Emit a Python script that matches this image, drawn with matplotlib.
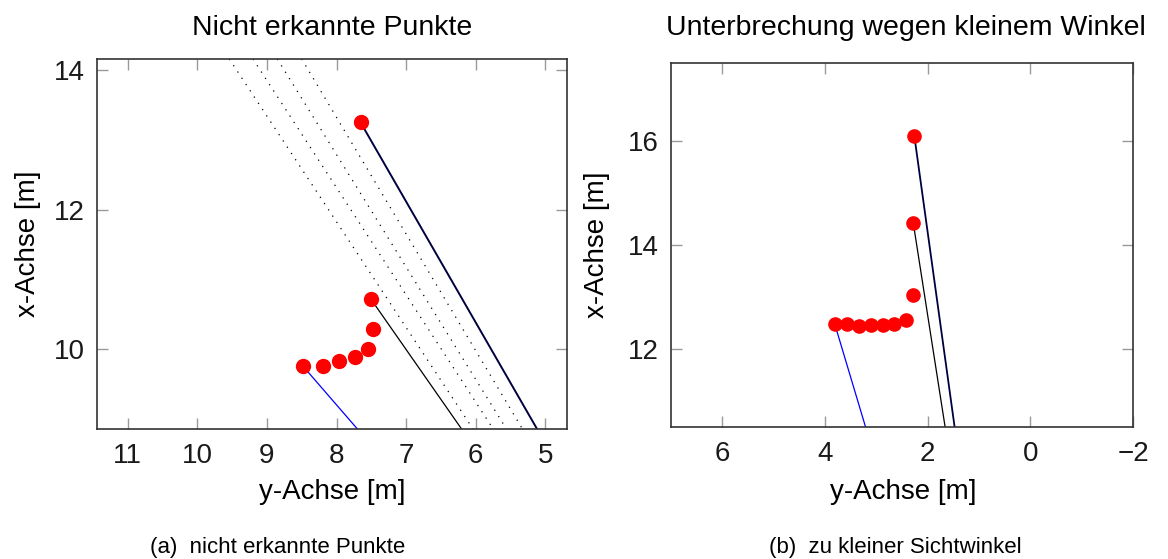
import matplotlib.pyplot as plt

# (a) nicht erkannte Punkte: detected points (y-axis value, x-axis value)
a_pts_y = [7.655, 7.51, 7.48, 7.55, 7.73, 7.97, 8.20, 8.48]
a_pts_x = [13.25, 10.72, 10.29, 10.005, 9.885, 9.83, 9.76, 9.75]

# rays (start y, start x, end y, end x)
a_ray_blue = ([8.48, 7.70], [9.75, 8.85])
a_ray_black = ([7.51, 6.204], [10.72, 8.85])
a_ray_navy = ([7.655, 5.12], [13.25, 8.85])
a_dotted_top_y = [9.54, 9.20, 8.85, 8.50]
a_dotted_bot_y = [6.04, 5.75, 5.56, 5.33]
a_dotted_x = [14.16, 8.85]

# (b) zu kleiner Sichtwinkel
b_pts_y = [2.26, 2.28, 2.29, 2.43, 2.65, 2.87, 3.10, 3.34, 3.58, 3.81]
b_pts_x = [16.10, 14.42, 13.03, 12.55, 12.48, 12.46, 12.47, 12.45, 12.48, 12.48]
b_ray_blue = ([3.81, 3.21], [12.48, 10.5])
b_ray_black = ([2.28, 1.66], [14.42, 10.5])
b_ray_navy = ([2.26, 1.475], [16.10, 10.5])

a_xticks = [11, 10, 9, 8, 7, 6, 5]
a_yticks = [10, 12, 14]
b_xticks = [6, 4, 2, 0, -2]
b_yticks = [12, 14, 16]

plt.rcParams['font.family'] = ['Liberation Sans', 'DejaVu Sans']

W, H = 1168, 559
fig = plt.figure(figsize=(W / 100, H / 100), dpi=100)


def px_axes(x0, y0, x1, y1):
    return fig.add_axes([x0 / W, 1 - y1 / H, (x1 - x0) / W, (y1 - y0) / H])


def style(ax, xticks, yticks):
    ax.set_xticks(xticks)
    ax.set_yticks(yticks)
    ax.set_xticklabels([str(t).replace('-', '\u2212') for t in xticks])
    ax.tick_params(direction='in', length=8, width=1, color='#9a9a9a',
                   top=True, right=True, labelsize=20, labelcolor='#1a1a1a')
    ax.tick_params(axis='x', pad=10)
    ax.tick_params(axis='y', pad=9)
    for s in ax.spines.values():
        s.set_linewidth(1.2)
        s.set_color('#333333')


# --- left
ax1 = px_axes(97, 59, 567, 429)
for y0, y1 in zip(a_dotted_top_y, a_dotted_bot_y):
    ax1.plot([y0, y1], a_dotted_x, color='black', lw=0.9, ls=(0, (1, 5)))
ax1.plot(*a_ray_blue, color='blue', lw=0.9)
ax1.plot(*a_ray_black, color='black', lw=0.9)
ax1.plot(*a_ray_navy, color='#000040', lw=1.4)
ax1.plot(a_pts_y, a_pts_x, 'o', color='red', ms=10, ls='none')
ax1.set_xlim(11.44, 4.69)
ax1.set_ylim(8.85, 14.16)
style(ax1, a_xticks, a_yticks)

# --- right
ax2 = px_axes(671, 63, 1133, 427)
ax2.plot(*b_ray_blue, color='blue', lw=0.9)
ax2.plot(*b_ray_black, color='black', lw=0.9)
ax2.plot(*b_ray_navy, color='#000040', lw=1.3)
ax2.plot(b_pts_y, b_pts_x, 'o', color='red', ms=9.5, ls='none')
ax2.set_xlim(7, -2)
ax2.set_ylim(10.5, 17.5)
style(ax2, b_xticks, b_yticks)

# texts
fig.text(332 / W, 1 - 35 / H, 'Nicht erkannte Punkte', ha='center', va='baseline', fontsize=20.5)
fig.text(906 / W, 1 - 35 / H, 'Unterbrechung wegen kleinem Winkel', ha='center', va='baseline', fontsize=20.5)
fig.text(332 / W, 1 - 499 / H, 'y-Achse [m]', ha='center', va='baseline', fontsize=20)
fig.text(903 / W, 1 - 499 / H, 'y-Achse [m]', ha='center', va='baseline', fontsize=20)
fig.text(28 / W, 1 - 244 / H, 'x-Achse [m]', ha='center', va='center', rotation=90, fontsize=20)
fig.text(597 / W, 1 - 245 / H, 'x-Achse [m]', ha='center', va='center', rotation=90, fontsize=20)
fig.text(278 / W, 1 - 553 / H, '(a)  nicht erkannte Punkte', ha='center', va='baseline', fontsize=16)
fig.text(895 / W, 1 - 553 / H, '(b)  zu kleiner Sichtwinkel', ha='center', va='baseline', fontsize=16)

fig.savefig('out.png', dpi=100)
